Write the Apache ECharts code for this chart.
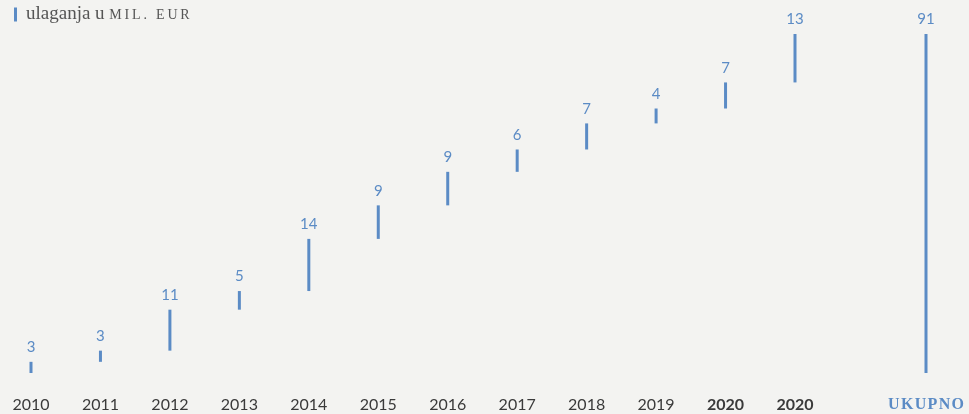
<!DOCTYPE html>
<html>
<head>
<meta charset="utf-8">
<script src="https://cdn.jsdelivr.net/npm/echarts@6/dist/echarts.min.js"></script>
<style>
	html, body { margin: 0; padding: 0; background: #f3f3f1; }
	#chart { width: 969px; height: 414px; }
</style>
</head>
<body>
<div id="chart"></div>
<script>
// godine i ulaganja (mil. EUR)
const years = ['2010', '2011', '2012', '2013', '2014', '2015', '2016', '2017', '2018', '2019', '2020', '2020']
const values = [3, 3, 11, 5, 14, 9, 9, 6, 7, 4, 7, 13]
// nevidljiva osnova (kumulativ)
const bases = [0, 3, 6, 17, 22, 36, 45, 54, 60, 67, 71, 78]
const totalLabel = ['UKUPNO']
const total = [91]

const blue = '#5b8bc5'
// razmak slova za kapitalke
const spaced = (s, sp) => s.split('').join(sp)

const barLabel = {
	show: true,
	position: 'top',
	distance: 7,
	fontFamily: 'Lato',
	fontSize: 15,
	color: blue
}

const myChart = echarts.init(document.getElementById('chart'))
const option = {
	backgroundColor: '#f3f3f1',
	animation: false,
	legend: {
		left: 9,
		top: 0,
		itemWidth: 3,
		itemHeight: 14,
		icon: 'rect',
		data: ['ulaganja'],
		formatter: () => '{a|ulaganja u }{b|' + spaced('MIL. EUR', '\u2009') + '}',
		textStyle: {
			rich: {
				a: { fontFamily: 'Liberation Serif', fontSize: 19, color: '#555', padding: [0, 0, 0, 4] },
				b: { fontFamily: 'Liberation Serif', fontSize: 14, color: '#555', padding: [2, 0, 0, 0] }
			}
		}
	},
	grid: [
		{ top: 34, bottom: 41, left: 31, right: 174 },
		{ top: 34, bottom: 41, left: 900, right: 17 }
	],
	xAxis: [
		{
			type: 'category',
			gridIndex: 0,
			boundaryGap: false,
			data: years,
			axisLine: { show: false },
			axisTick: { show: false },
			axisLabel: {
				interval: 0,
				margin: 24,
				fontFamily: 'Lato',
				fontSize: 16,
				color: '#3a3a3a',
				formatter: (v, i) => (i >= 10 ? '{b|' + v + '}' : v),
				rich: {
					b: { fontFamily: 'Lato', fontSize: 16, fontWeight: 'bold', color: '#3a3a3a' }
				}
			}
		},
		{
			type: 'category',
			gridIndex: 1,
			data: totalLabel,
			axisLine: { show: false },
			axisTick: { show: false },
			axisLabel: {
				margin: 24,
				formatter: (v) => '{u|' + spaced(v, '\u200A') + '}',
				rich: {
					u: { fontFamily: 'Liberation Serif', fontSize: 16, fontWeight: 'bold', color: blue }
				}
			}
		}
	],
	yAxis: [
		{ type: 'value', gridIndex: 0, min: 0, max: 91, show: false },
		{ type: 'value', gridIndex: 1, min: 0, max: 91, show: false }
	],
	series: [
		{
			name: 'base',
			type: 'bar',
			stack: 'w',
			barWidth: 3,
			itemStyle: { color: 'transparent' },
			data: bases
		},
		{
			name: 'ulaganja',
			type: 'bar',
			stack: 'w',
			barWidth: 3,
			itemStyle: { color: blue },
			label: barLabel,
			data: values
		},
		{
			name: 'ukupno',
			type: 'bar',
			xAxisIndex: 1,
			yAxisIndex: 1,
			barWidth: 3,
			itemStyle: { color: blue },
			label: barLabel,
			data: total
		}
	]
}
myChart.setOption(option)
</script>
</body>
</html>
